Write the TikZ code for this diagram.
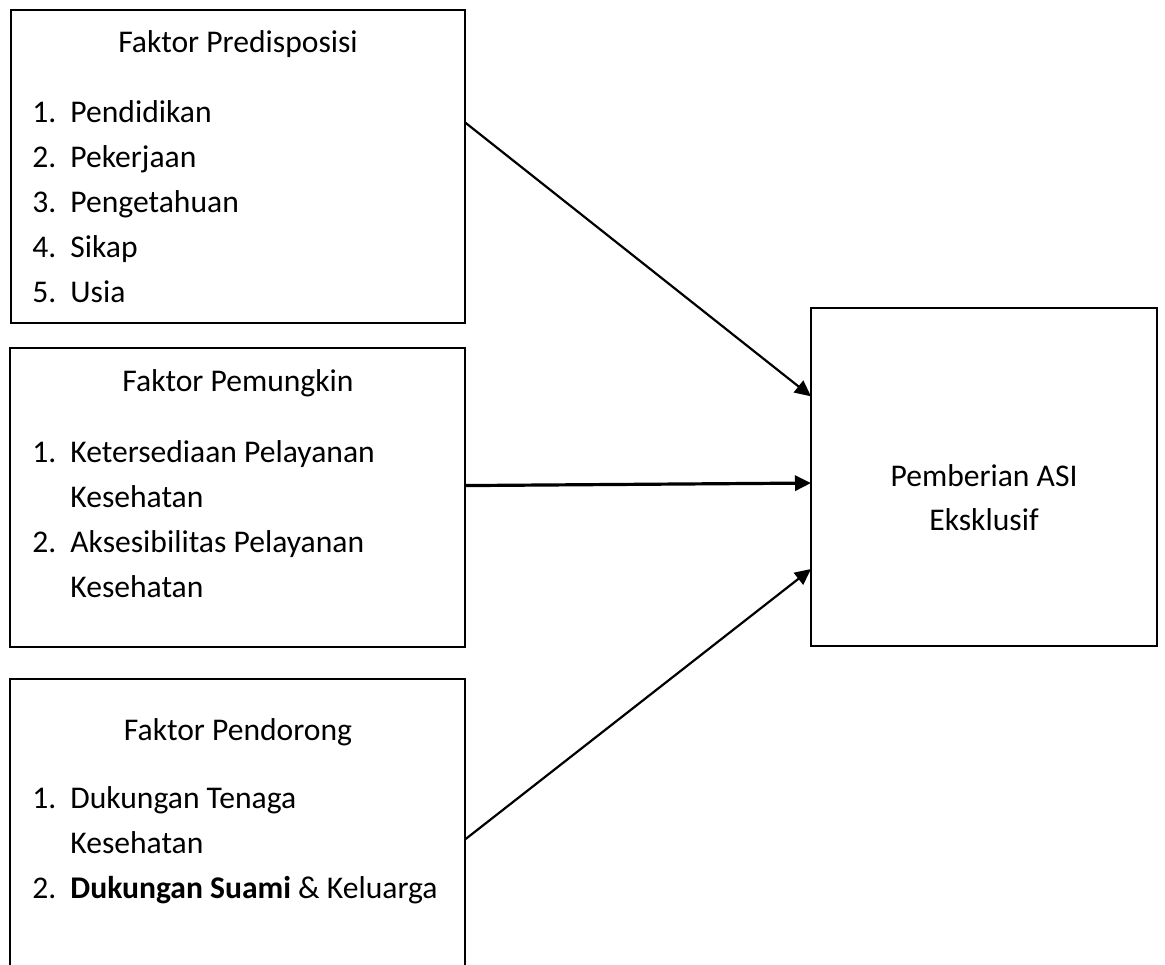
\documentclass[tikz,border=0pt]{standalone}
\usepackage{fontspec}
\setmainfont{Carlito}
\usetikzlibrary{arrows.meta}

\begin{document}
\begin{tikzpicture}[x=0.5pt, y=-0.5pt, >={Triangle[length=8pt,width=7.5pt]},
  font=\fontsize{15.8pt}{22.5pt}\selectfont,
  box/.style={draw, line width=1.2pt, inner sep=0pt, outer sep=0pt},
  ttl/.style={anchor=base, inner sep=0pt},
  lst/.style={anchor=base west, inner sep=0pt},
  link/.style={->, line width=1.1pt}]
  \useasboundingbox (0,0) rectangle (1165,964);
  % factor boxes
  \node[box, minimum width=227pt, minimum height=156.5pt] (pre) at (238,166.5) {};
  \node[box, minimum width=227.5pt, minimum height=149.5pt] (pem) at (237.5,497.5) {};
  \node[box, minimum width=227.5pt, minimum height=160.5pt] (pen) at (237.5,839.5) {};
  \node[box, minimum width=173pt, minimum height=169pt] (asi) at (984,477) {};
  % titles
  \node[ttl] (preT) at (238,52) {Faktor Predisposisi};
  \node[ttl] (pemT) at (238,391) {Faktor Pemungkin};
  \node[ttl] (penT) at (238,740) {Faktor Pendorong};
  % lists
  \node[lst] (preL) at (32,122) {\begin{tabular}[t]{@{}p{19pt}@{}l@{}}
    1. & Pendidikan\\ 2. & Pekerjaan\\ 3. & Pengetahuan\\ 4. & Sikap\\ 5. & Usia
  \end{tabular}};
  \node[lst] (pemL) at (32,462) {\begin{tabular}[t]{@{}p{19pt}@{}l@{}}
    1. & Ketersediaan Pelayanan\\ & Kesehatan\\ 2. & Aksesibilitas Pelayanan\\ & Kesehatan
  \end{tabular}};
  \node[lst] (penL) at (32,808) {\begin{tabular}[t]{@{}p{19pt}@{}l@{}}
    1. & Dukungan Tenaga\\ & Kesehatan\\ 2. & \textbf{Dukungan Suami} \& Keluarga
  \end{tabular}};
  \node[ttl] (asiT) at (984,486) {Pemberian ASI};
  \node[ttl] (asiB) at (984,530) {Eksklusif};
  % arrows
  \draw[link] (pre.11.1) -- (asi.155.7);
  \draw[link, line width=1.6pt] (pem.3.6) -- (asi.182);
  \draw[link] (pen.0.4) -- (asi.208.5);
\end{tikzpicture}
\end{document}
